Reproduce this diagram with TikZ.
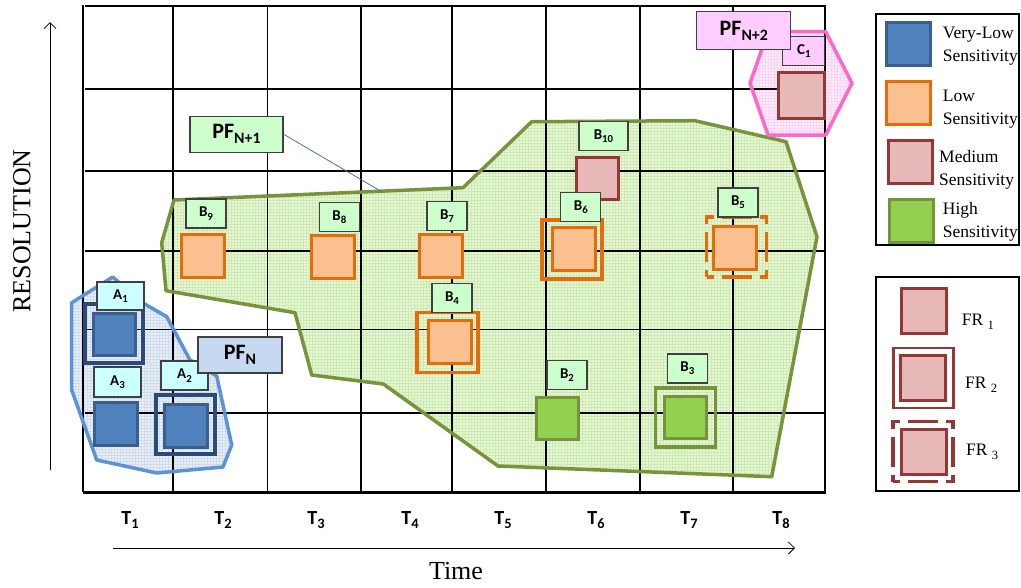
\documentclass[tikz,border=0pt]{standalone}
\usepackage{fontspec}
\setmainfont{Liberation Serif}
\newfontfamily\calb{Carlito}
\usetikzlibrary{patterns,arrows.meta}
\definecolor{bluefill}{HTML}{EAF0F8}
\definecolor{bluepat}{HTML}{D0DCEE}
\definecolor{blueline}{HTML}{5B92D8}
\definecolor{greenfill}{HTML}{E8F6DA}
\definecolor{greenpat}{HTML}{CDEAB0}
\definecolor{greenline}{HTML}{77933C}
\definecolor{pinkfill}{HTML}{FFEFFA}
\definecolor{pinkpat}{HTML}{FFD3F1}
\definecolor{pinkline}{HTML}{FF66CC}
\definecolor{vlfill}{HTML}{4F81BD}
\definecolor{vlborder}{HTML}{3A5F8F}
\definecolor{vlframe}{HTML}{2A4A78}
\definecolor{lowfill}{HTML}{FAC090}
\definecolor{lowline}{HTML}{E46C0A}
\definecolor{medfill}{HTML}{E6B9B8}
\definecolor{medline}{HTML}{953735}
\definecolor{highfill}{HTML}{92D050}
\definecolor{highline}{HTML}{77933C}
\definecolor{labA}{HTML}{CCFFFF}
\definecolor{labB}{HTML}{CCFFCC}
\definecolor{labC}{HTML}{FFCCFF}
\definecolor{labPF}{HTML}{C6D9F1}
\definecolor{lblborder}{HTML}{404040}
\definecolor{connline}{HTML}{4F6FA0}
\newcommand\lsub[1]{\raisebox{-0.45ex}{\scalebox{0.72}{#1}}}
\tikzset{
  bluepath/.style={insert path={(71.7,302.7) -- (112.7,277) -- (143,303) -- (166.7,316.7) -- (190,360) -- (216.7,376) -- (231.7,445) -- (223,467) -- (156.7,473) -- (96.7,460) -- (71.7,390) -- cycle}},
  greenpath/.style={insert path={(174,200) -- (463,187.7) -- (531.7,121.7) -- (695,120.7) -- (786,141.7) -- (817,236.7) -- (771.7,476.7) -- (498,466) -- (383.3,384) -- (311.7,375) -- (295,312.7) -- (166,290.7) -- (161.7,242.7) -- cycle}},
  pinkpath/.style={insert path={(750,83.3) -- (768,31.7) -- (825.7,31.7) -- (852,83.3) -- (825.7,135) -- (768,135) -- cycle}},
  gthick/.style={line width=2pt, black},
  gthin/.style={line width=1.2pt, black},
  lbl/.style={draw=lblborder, line width=1.2pt, inner sep=0pt, minimum width=40pt, minimum height=29pt, font=\calb\bfseries\fontsize{15}{18}\selectfont},
  pfbox/.style={draw=lblborder, line width=1.2pt, inner sep=0pt, minimum height=36pt, font=\calb\bfseries\fontsize{22}{26}\selectfont},
  sq/.style={line width=3pt, inner sep=0pt, minimum size=43pt},
  vlsq/.style={sq, draw=vlborder, fill=vlfill},
  lowsq/.style={sq, draw=lowline, fill=lowfill},
  medsq/.style={sq, draw=medline, fill=medfill},
  highsq/.style={sq, draw=highline, fill=highfill},
  sqframe/.style={draw=#1, line width=3.5pt, inner sep=0pt, minimum size=60pt},
  dashframe/.style={sqframe=#1, dash pattern=on 14pt off 8pt on 30pt off 8pt, dash phase=7pt},
  legtxt/.style={anchor=west, align=left, inner sep=0pt, font=\fontsize{17.5}{23}\selectfont},
  axlbl/.style={font=\calb\bfseries\fontsize{20}{22}\selectfont},
  axarrow/.style={line width=0.8pt, -{Straight Barb[length=6pt,width=12pt]}},
  legbox/.style={draw=black, line width=1.5pt}
}
\begin{document}
\begin{tikzpicture}[x=1pt,y=-1pt]
\useasboundingbox (0,0) rectangle (1021,587);
% region fills
\path[fill=greenfill, postaction={pattern=grid, pattern color=greenpat}, greenpath];
\path[fill=bluefill, postaction={pattern=grid, pattern color=bluepat}, bluepath];
\path[fill=pinkfill, postaction={pattern=grid, pattern color=pinkpat}, pinkpath];
% grid
\draw[gthick] (83,5) -- (83,492);
\draw[gthin] (173,5) -- (173,492);
\draw[gthin] (267.5,5) -- (267.5,492);
\draw[gthick] (361,5) -- (361,492);
\draw[gthick] (452,5) -- (452,492);
\draw[gthin] (546,5) -- (546,492);
\draw[gthick] (639.5,5) -- (639.5,492);
\draw[gthin] (733,5) -- (733,492);
\draw[gthin] (825,5) -- (825,492);
\draw[gthick] (85,5.7) -- (826,5.7);
\draw[gthick] (85,88.5) -- (826,88.5);
\draw[gthick] (85,170.7) -- (826,170.7);
\draw[gthick] (85,250.5) -- (826,250.5);
\draw[gthin] (85,329.5) -- (826,329.5);
\draw[gthick] (85,412.5) -- (826,412.5);
\draw[line width=2.6pt] (83,492.5) -- (826,492.5);
% region outlines
\draw[greenline, line width=3.5pt, line join=round, greenpath];
\draw[blueline, line width=3.5pt, line join=round, bluepath];
\draw[pinkline, line width=3.5pt, line join=round, pinkpath];
% connector PF N+1
\coordinate (pfn1tip) at (383,192.5);
\node[pfbox, fill=labB, minimum width=93pt] (pfn1) at (236.5,134.2) {PF\lsub{N+1}};
\draw[connline, line width=0.8pt] (pfn1.east) -- (pfn1tip);
% group A
\node[sqframe=vlframe, minimum width=58pt, minimum height=59pt] (a1f) at (114,333.5) {};
\node[vlsq, minimum size=42pt] (a1) at (114,334) {};
\node[lbl, fill=labA, minimum width=47pt, minimum height=28pt] (a1l) at (120.5,296) {A\lsub{1}};
\node[vlsq, minimum size=43pt] (a3) at (116,424) {};
\node[lbl, fill=labA, minimum width=47pt, minimum height=30pt] (a3l) at (117.5,382) {A\lsub{3}};
\node[sqframe=vlframe, minimum size=59pt] (a2f) at (185.5,424.5) {};
\node[vlsq] (a2) at (185.5,425.5) {};
\node[lbl, fill=labA, minimum width=47pt] (a2l) at (184.5,375.5) {A\lsub{2}};
\node[pfbox, fill=labPF, minimum width=84pt] (pfn) at (240,355) {PF\lsub{N}};
% group B
\node[lowsq] (b9) at (202.5,256) {};
\node[lbl, fill=labB] (b9l) at (206,213.5) {B\lsub{9}};
\node[lowsq] (b8) at (333.4,256.5) {};
\node[lbl, fill=labB] (b8l) at (339.4,217.2) {B\lsub{8}};
\node[lowsq] (b7) at (441.4,255.9) {};
\node[lbl, fill=labB] (b7l) at (447,216.2) {B\lsub{7}};
\node[sqframe=lowline, minimum width=61pt] (b4f) at (447.3,342.7) {};
\node[lowsq] (b4) at (449.5,342.3) {};
\node[lbl, fill=labB] (b4l) at (452,298) {B\lsub{4}};
\node[medsq, minimum size=42pt] (b10) at (597.8,178.3) {};
\node[lbl, fill=labB, minimum width=49pt] (b10l) at (603.5,136.3) {B\lsub{10}};
\node[sqframe=lowline, minimum height=59pt] (b6f) at (572,249.5) {};
\node[lowsq] (b6) at (574.3,249.2) {};
\node[lbl, fill=labB] (b6l) at (580.8,207.2) {B\lsub{6}};
\node[dashframe=lowline] (b5f) at (736.7,246.8) {};
\node[lowsq] (b5) at (734.5,247.8) {};
\node[lbl, fill=labB] (b5l) at (738,202.5) {B\lsub{5}};
\node[highsq, minimum size=42pt] (b2) at (557.3,418.5) {};
\node[lbl, fill=labB] (b2l) at (567,375.3) {B\lsub{2}};
\node[sqframe=highline, minimum height=59pt] (b3f) at (685.5,417.5) {};
\node[highsq, minimum size=42pt] (b3) at (685.3,417.3) {};
\node[lbl, fill=labB] (b3l) at (687.3,368.5) {B\lsub{3}};
% group C
\node[medsq, minimum size=46pt] (c1) at (801.3,95.5) {};
\node[lbl, fill=labC, minimum width=42pt] (c1l) at (803.8,51.3) {C\lsub{1}};
\node[pfbox, fill=labC, minimum width=94pt, minimum height=38pt] (pfn2) at (743.8,30.5) {PF\lsub{N+2}};
% axes
\coordinate (rs) at (50,470);
\coordinate (re) at (50,22);
\draw[axarrow] (rs) -- (re);
\node[rotate=90, font=\fontsize{26}{30}\selectfont] (res) at (22,231) {RESOLUTION};
\coordinate (ts) at (113,548);
\coordinate (te) at (795,548);
\draw[axarrow] (ts) -- (te);
\node[font=\fontsize{26}{30}\selectfont] (time) at (456,571) {Time};
\node[axlbl] (t1) at (130,520) {T\lsub{1}};
\node[axlbl] (t2) at (223,520) {T\lsub{2}};
\node[axlbl] (t3) at (316,520) {T\lsub{3}};
\node[axlbl] (t4) at (410,520) {T\lsub{4}};
\node[axlbl] (t5) at (503,520) {T\lsub{5}};
\node[axlbl] (t6) at (596,520) {T\lsub{6}};
\node[axlbl] (t7) at (689,520) {T\lsub{7}};
\node[axlbl] (t8) at (781,520) {T\lsub{8}};
% legend 1
\draw[legbox] (876,14) rectangle (1019,245);
\node[vlsq, minimum width=44pt] (lg1) at (908.7,44) {};
\node[legtxt] (lg1t) at (942.7,46.5) {Very-Low\\Sensitivity};
\node[lowsq, minimum width=44pt] (lg2) at (908.7,103.3) {};
\node[legtxt] (lg2t) at (942.7,109) {Low\\Sensitivity};
\node[medsq, minimum width=44pt] (lg3) at (910.8,161.7) {};
\node[legtxt] (lg3t) at (939,169.5) {Medium\\Sensitivity};
\node[highsq, minimum width=44pt] (lg4) at (911,221) {};
\node[legtxt] (lg4t) at (942.7,221.5) {High\\Sensitivity};
% legend 2
\draw[legbox] (876,277) rectangle (1019,491);
\node[medsq, minimum size=45pt] (fr1) at (923.7,310.5) {};
\node[legtxt] (fr1t) at (961.7,322) {FR \lsub{1}};
\node[sqframe=medline, line width=2.6pt] (fr2f) at (923.5,378) {};
\node[medsq, minimum size=45pt] (fr2) at (923.3,377.8) {};
\node[legtxt] (fr2t) at (965,385) {FR \lsub{2}};
\node[dashframe=medline] (fr3f) at (923,451.7) {};
\node[medsq, minimum size=45pt] (fr3) at (923.7,452) {};
\node[legtxt] (fr3t) at (966,452) {FR \lsub{3}};
\end{tikzpicture}
\end{document}
